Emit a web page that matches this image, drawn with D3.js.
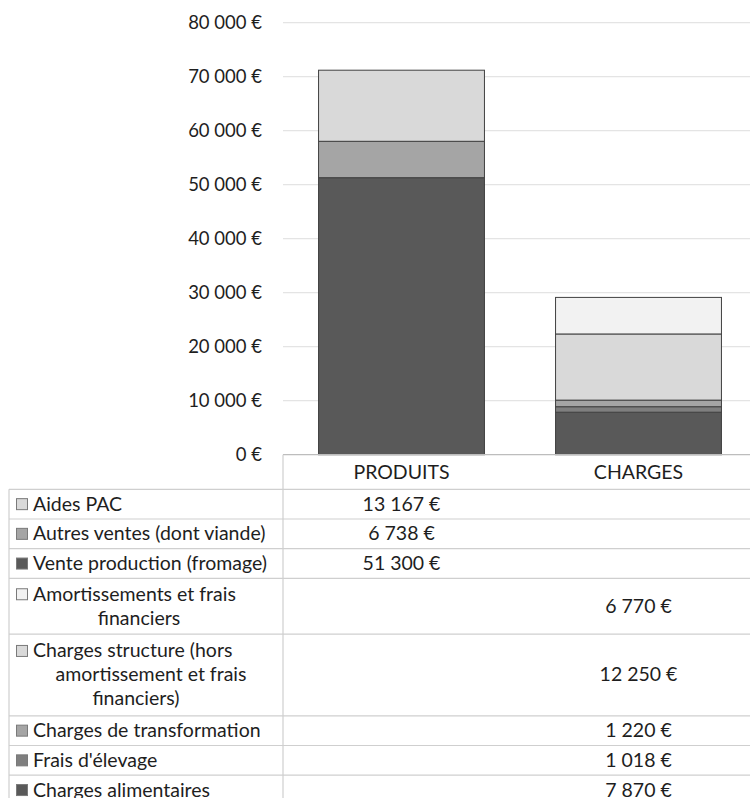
<!DOCTYPE html>
<html>
<head>
<meta charset="utf-8">
<script src="https://cdn.jsdelivr.net/npm/d3@7"></script>
<style>
  html, body { margin: 0; padding: 0; background: #fff; }
  svg { display: block; }
  text { font-family: Lato, "Open Sans", sans-serif; fill: #1e1e1e; }
</style>
</head>
<body>
<div id="chart"></div>
<script>
// ---- data ----
const categories = ["PRODUITS", "CHARGES"];
const seriesNames = [
  "Vente production (fromage)",
  "Autres ventes (dont viande)",
  "Aides PAC",
  "Charges alimentaires",
  "Frais d'élevage",
  "Charges de transformation",
  "Charges structure (hors amortissement et frais financiers)",
  "Amortissements et frais financiers"
];
const produitsValues = [51300, 6738, 13167, 0, 0, 0, 0, 0];
const chargesValues  = [0, 0, 0, 7870, 1018, 1220, 12250, 6770];
const seriesColors = ["#595959", "#a5a5a5", "#d9d9d9", "#595959", "#7f7f7f", "#a5a5a5", "#d9d9d9", "#f2f2f2"];
const yTicks = [0, 10000, 20000, 30000, 40000, 50000, 60000, 70000, 80000];
// table rows (legend order) : series index and wrapped label lines
const tableOrder = [2, 1, 0, 7, 6, 5, 4, 3];
const tableLabelLines = [
  ["Aides PAC"],
  ["Autres ventes (dont viande)"],
  ["Vente production (fromage)"],
  ["Amortissements et frais", "financiers"],
  ["Charges structure (hors", "amortissement et frais", "financiers)"],
  ["Charges de transformation"],
  ["Frais d'élevage"],
  ["Charges alimentaires"]
];
// horizontal centres of wrapped continuation lines (layout)
const wrapCenters = [[], [], [], [0, 139], [0, 151, 136], [], [], []];

// ---- layout ----
const W = 750, H = 798;
const plotLeft = 283, plotRight = 757, plotTop = 22.7, plotBottom = 454.7;
const tableLeft = 9;
const headerH = 34.6;
const lineH = 26, rowPad = 3.7;
const tickFont = 18.5;
const tableFont = 19.5;

const fmt = v => d3.format(",")(v).replace(/,/g, " ") + " €";

const svg = d3.select("#chart").append("svg")
  .attr("width", W).attr("height", H);

const x = d3.scaleBand().domain(categories)
  .range([plotLeft, plotRight]).paddingInner(0.3).paddingOuter(0.15);
const y = d3.scaleLinear().domain([0, 80000]).range([plotBottom, plotTop]);

// gridlines
svg.append("g").selectAll("line").data(yTicks.filter(d => d > 0)).join("line")
  .attr("x1", plotLeft).attr("x2", W)
  .attr("y1", d => y(d)).attr("y2", d => y(d))
  .attr("stroke", "#e4e4e4").attr("stroke-width", 1.3);

// y axis labels
const yAxis = d3.axisLeft(y).tickValues(yTicks).tickFormat(fmt).tickSize(0).tickPadding(21);
const yg = svg.append("g").attr("transform", `translate(${plotLeft},0)`).call(yAxis);
yg.select(".domain").remove();
yg.selectAll("text").style("font-family", "Lato, sans-serif").style("font-size", tickFont + "px").attr("fill", "#1e1e1e");

// stacked bars
const valuesByCat = { "PRODUITS": produitsValues, "CHARGES": chargesValues };
const rects = [];
categories.forEach(cat => {
  let acc = 0;
  valuesByCat[cat].forEach((v, i) => {
    if (v > 0) {
      rects.push({ cat, i, y0: acc, y1: acc + v });
      acc += v;
    }
  });
});
svg.append("g").selectAll("rect").data(rects).join("rect")
  .attr("x", d => x(d.cat))
  .attr("width", x.bandwidth())
  .attr("y", d => y(d.y1))
  .attr("height", d => y(d.y0) - y(d.y1))
  .attr("fill", d => seriesColors[d.i])
  .attr("stroke", "#404040").attr("stroke-width", 1);

// ---- data table ----
const tbl = svg.append("g");
const lineColor = "#cfcfcf";
// axis / table top line
tbl.append("line").attr("x1", plotLeft).attr("x2", W).attr("y1", plotBottom).attr("y2", plotBottom)
  .attr("stroke", "#bdbdbd").attr("stroke-width", 1.2);
// header
tbl.selectAll("text.hdr").data(categories).join("text").attr("class", "hdr")
  .attr("x", d => x(d) + x.bandwidth() / 2)
  .attr("y", plotBottom + 24.5)
  .attr("text-anchor", "middle")
  .style("font-size", tableFont + "px")
  .text(d => d);

// rows
let rowTop = plotBottom + headerH;
const rows = tableOrder.map((si, r) => {
  const n = tableLabelLines[r].length;
  const h = rowPad + lineH * n;
  const row = { si, r, top: rowTop, h, lines: tableLabelLines[r] };
  rowTop += h;
  return row;
});
const tableBottom = rowTop;

// horizontal lines
tbl.selectAll("line.h").data(rows).join("line").attr("class", "h")
  .attr("x1", tableLeft).attr("x2", W)
  .attr("y1", d => d.top).attr("y2", d => d.top)
  .attr("stroke", lineColor).attr("stroke-width", 1.2);
tbl.append("line").attr("x1", tableLeft).attr("x2", W).attr("y1", tableBottom).attr("y2", tableBottom)
  .attr("stroke", lineColor).attr("stroke-width", 1.2);
// verticals
tbl.append("line").attr("x1", tableLeft).attr("x2", tableLeft)
  .attr("y1", rows[0].top).attr("y2", tableBottom).attr("stroke", lineColor).attr("stroke-width", 1.2);
tbl.append("line").attr("x1", plotLeft).attr("x2", plotLeft)
  .attr("y1", plotBottom).attr("y2", tableBottom).attr("stroke", lineColor).attr("stroke-width", 1.2);

const rowG = tbl.selectAll("g.row").data(rows).join("g").attr("class", "row");
// first-line baseline
const firstBase = d => d.top + (d.h - (d.lines.length - 1) * 24) / 2 + 6.5;

rowG.append("rect")
  .attr("x", 16.5).attr("y", d => firstBase(d) - 12)
  .attr("width", 11).attr("height", 11)
  .attr("fill", d => seriesColors[d.si])
  .attr("stroke", "#7a7a7a").attr("stroke-width", 1);

rowG.each(function(d) {
  const g = d3.select(this);
  d.lines.forEach((ln, k) => {
    g.append("text")
      .attr("x", k === 0 ? 33 : wrapCenters[d.r][k])
      .attr("y", firstBase(d) + k * 24)
      .attr("text-anchor", k === 0 ? "start" : "middle")
      .style("font-size", tableFont + "px")
      .text(ln);
  });
  categories.forEach(cat => {
    const v = valuesByCat[cat][d.si];
    if (v > 0) {
      g.append("text")
        .attr("x", x(cat) + x.bandwidth() / 2)
        .attr("y", d.top + d.h / 2 + 6.5)
        .attr("text-anchor", "middle")
        .style("font-size", tableFont + "px")
        .text(fmt(v));
    }
  });
});
</script>
</body>
</html>
